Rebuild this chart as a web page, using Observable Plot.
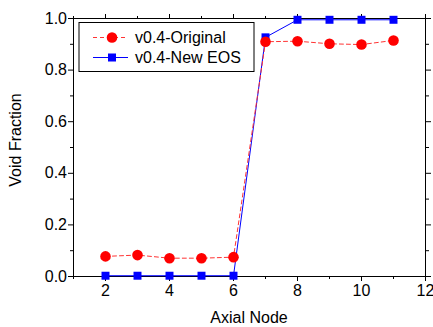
<!DOCTYPE html>
<html><head><meta charset="utf-8">
<script src="https://cdn.jsdelivr.net/npm/d3@7"></script>
<script src="https://cdn.jsdelivr.net/npm/@observablehq/plot@0.6"></script>
<style>
body{margin:0;background:#fff;}
#chart{position:relative;width:433px;height:327px;}
#chart svg text{font-size:16px;font-family:"Liberation Sans",Arial,sans-serif;fill:#000;}
</style>
</head><body><div id="chart"></div>
<script>
const nodes = [2, 3, 4, 5, 6, 7, 8, 9, 10, 11];
const original = [0.078, 0.083, 0.071, 0.071, 0.075, 0.910, 0.912, 0.902, 0.899, 0.915];
const newEOS = [0.003, 0.003, 0.003, 0.003, 0.003, 0.927, 0.995, 0.995, 0.995, 0.995];
const seriesNames = ["v0.4-Original", "v0.4-New EOS"];
const xTitle = "Axial Node";
const yTitle = "Void Fraction";
const xMajor = [2, 4, 6, 8, 10, 12];
const xMinor = [1, 3, 5, 7, 9, 11];
const yMajor = [0, 0.2, 0.4, 0.6, 0.8, 1.0];
const yMinor = [0.1, 0.3, 0.5, 0.7, 0.9];

const dOrig = nodes.map((x, i) => ({x, y: original[i]}));
const dNew = nodes.map((x, i) => ({x, y: newEOS[i]}));
const font = "Liberation Sans, Arial, sans-serif";

const plot = Plot.plot({
  width: 433, height: 327,
  marginLeft: 73, marginRight: 8, marginTop: 18, marginBottom: 51,
  style: {fontFamily: font, fontSize: "16px", color: "#000", background: "#fff"},
  x: {domain: [1, 12]},
  y: {domain: [0, 1]},
  marks: [
    Plot.frame({stroke: "#000", strokeWidth: 1}),
    Plot.axisX({anchor: "bottom", ticks: xMajor, tickSize: 5, tickPadding: 3, tickFormat: d => d, label: null, fontSize: 16}),
    Plot.axisX({anchor: "bottom", ticks: xMinor, tickSize: 3, tickFormat: () => "", label: null}),
    Plot.axisX({anchor: "top", ticks: xMajor, tickSize: 5, tickFormat: () => "", label: null}),
    Plot.axisX({anchor: "top", ticks: xMinor, tickSize: 3, tickFormat: () => "", label: null}),
    Plot.axisY({anchor: "left", ticks: yMajor, tickSize: 5, tickPadding: 1.5, tickFormat: d3.format(".1f"), label: null, fontSize: 16}),
    Plot.axisY({anchor: "left", ticks: yMinor, tickSize: 3, tickFormat: () => "", label: null}),
    Plot.axisY({anchor: "right", ticks: yMajor, tickSize: 5, tickFormat: () => "", label: null}),
    Plot.axisY({anchor: "right", ticks: yMinor, tickSize: 3, tickFormat: () => "", label: null}),
    Plot.line(dNew, {x: "x", y: "y", stroke: "#0000ff", strokeWidth: 1}),
    Plot.dot(dNew, {x: "x", y: "y", symbol: "square", r: 4.5, fill: "#0000ff", stroke: "none"}),
    Plot.line(dOrig, {x: "x", y: "y", stroke: "#ff3333", strokeWidth: 1, strokeDasharray: "4,3"}),
    Plot.dot(dOrig, {x: "x", y: "y", r: 5.3, fill: "#ff0000", stroke: "none"})
  ]
});
document.getElementById("chart").appendChild(plot);

const svg = d3.select(plot);
// axis titles
svg.append("text").attr("text-anchor", "middle")
  .attr("x", 249).attr("y", 323).text(xTitle);
svg.append("text").attr("text-anchor", "middle")
  .attr("transform", "translate(21,140) rotate(-90)").text(yTitle);

// legend box inside the plot area
const g = svg.append("g").attr("text-anchor", "start");
g.append("rect").attr("x", 79).attr("y", 22.5).attr("width", 175).attr("height", 49)
  .attr("fill", "#fff").attr("stroke", "#000").attr("stroke-width", 1);
const rows = [
  {name: seriesNames[0], color: "#ff0000", line: "#ff3333", dash: "4,3", sym: "circle", y: 37.5},
  {name: seriesNames[1], color: "#0000ff", line: "#0000ff", dash: null, sym: "square", y: 57.5}
];
rows.forEach(r => {
  g.append("line").attr("x1", 93).attr("x2", 128).attr("y1", r.y).attr("y2", r.y)
    .attr("stroke", r.line).attr("stroke-dasharray", r.dash);
  if (r.sym === "circle") g.append("circle").attr("cx", 112).attr("cy", r.y).attr("r", 5.3).attr("fill", r.color);
  else g.append("rect").attr("x", 108).attr("y", r.y - 4).attr("width", 8).attr("height", 8).attr("fill", r.color);
  g.append("text").attr("x", 135).attr("y", r.y).attr("dy", "0.35em").attr("text-anchor", "start").text(r.name);
});
</script>
</body></html>
